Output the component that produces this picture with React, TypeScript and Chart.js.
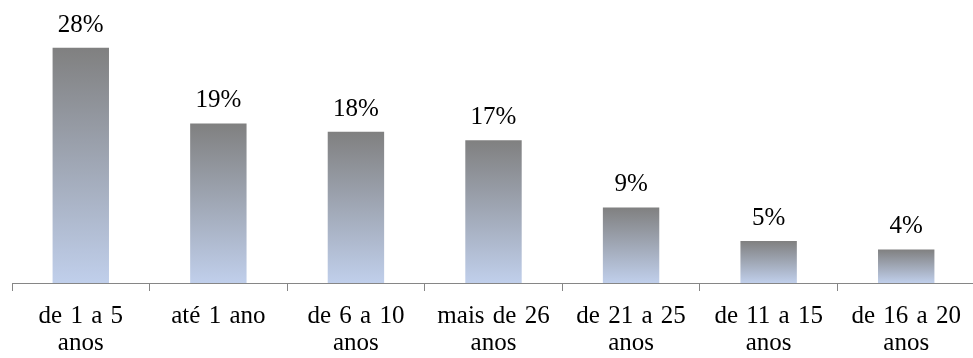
import React, { useEffect, useRef } from "react";
import { Chart, registerables } from "chart.js";

Chart.register(...registerables);

const categories: string[][] = [
  ["de 1 a 5", "anos"],
  ["até 1 ano"],
  ["de 6 a 10", "anos"],
  ["mais de 26", "anos"],
  ["de 21 a 25", "anos"],
  ["de 11 a 15", "anos"],
  ["de 16 a 20", "anos"],
];
const values: number[] = [28, 19, 18, 17, 9, 5, 4];
const valueLabels: string[] = ["28%", "19%", "18%", "17%", "9%", "5%", "4%"];

const FONT = '"Liberation Serif", "Times New Roman", serif';
const FONT_SIZE = 25;

export default function App() {
  const ref = useRef<HTMLCanvasElement | null>(null);

  useEffect(() => {
    const canvas = ref.current;
    if (!canvas) return;
    let chart: any = null;
    let cancelled = false;

    const labelPlugin = {
      id: "valueLabels",
      beforeDraw(ch: any) {
        try {
          (ch.ctx as any).wordSpacing = "2px";
        } catch (e) {}
      },
      afterDatasetsDraw(ch: any) {
        const ctx = ch.ctx;
        const meta = ch.getDatasetMeta(0);
        ctx.save();
        ctx.font = `${FONT_SIZE}px ${FONT}`;
        ctx.fillStyle = "#000";
        ctx.textAlign = "center";
        ctx.textBaseline = "alphabetic";
        meta.data.forEach((bar: any, i: number) => {
          ctx.fillText(valueLabels[i], bar.x, bar.y - 16);
        });
        ctx.restore();
      },
    };

    const build = () => {
      if (cancelled) return;
      chart = new Chart(canvas, {
        type: "bar",
        data: {
          labels: categories,
          datasets: [
            {
              data: values,
              backgroundColor: (c: any) => {
                const chartObj = c.chart;
                const y = chartObj.scales?.y;
                const area = chartObj.chartArea;
                if (!y || !area || c.raw === undefined) return "#a0a8b8";
                const top = y.getPixelForValue(c.raw);
                const bottom = y.getPixelForValue(0);
                const g = chartObj.ctx.createLinearGradient(0, top, 0, bottom);
                g.addColorStop(0, "#808080");
                g.addColorStop(1, "#c0cfeb");
                return g;
              },
              borderWidth: 0,
              categoryPercentage: 1,
              barPercentage: 0.41,
            },
          ],
        },
        options: {
          responsive: false,
          animation: false,
          devicePixelRatio: 1,
          layout: { padding: { left: 12, right: 0, top: 31, bottom: 0 } },
          plugins: {
            legend: { display: false },
            tooltip: { enabled: false },
            title: { display: false },
          },
          scales: {
            x: {
              offset: true,
              grid: {
                offset: true,
                drawOnChartArea: false,
                drawTicks: true,
                tickLength: 8,
                color: "#868686",
                lineWidth: 1,
              },
              border: { color: "#868686", width: 1 },
              ticks: {
                color: "#000",
                font: { family: FONT, size: FONT_SIZE, lineHeight: 1.08 },
                padding: 12,
                maxRotation: 0,
                autoSkip: false,
              },
              afterFit: (scale: any) => {
                scale.height = 75;
              },
            },
            y: {
              display: false,
              min: 0,
              max: 30,
            },
          },
        },
        plugins: [labelPlugin],
      });
    };

    const fonts: any = (document as any).fonts;
    if (fonts && fonts.load) {
      Promise.all([
        fonts.load(`${FONT_SIZE}px "Liberation Serif"`),
        fonts.load(`${FONT_SIZE}px "Times New Roman"`),
      ])
        .catch(() => null)
        .then(build);
    } else {
      build();
    }

    return () => {
      cancelled = true;
      if (chart) chart.destroy();
    };
  }, []);

  return (
    <div
      style={{
        position: "absolute",
        left: 0,
        top: 0,
        width: 973,
        height: 358,
        overflow: "hidden",
        background: "#fff",
      }}
    >
      <span
        style={{
          position: "absolute",
          left: -1000,
          top: 0,
          fontFamily: FONT,
          fontSize: FONT_SIZE,
        }}
      >
        de 1 a 5 %
      </span>
      <canvas ref={ref} width={975} height={358} style={{ display: "block" }} />
    </div>
  );
}
